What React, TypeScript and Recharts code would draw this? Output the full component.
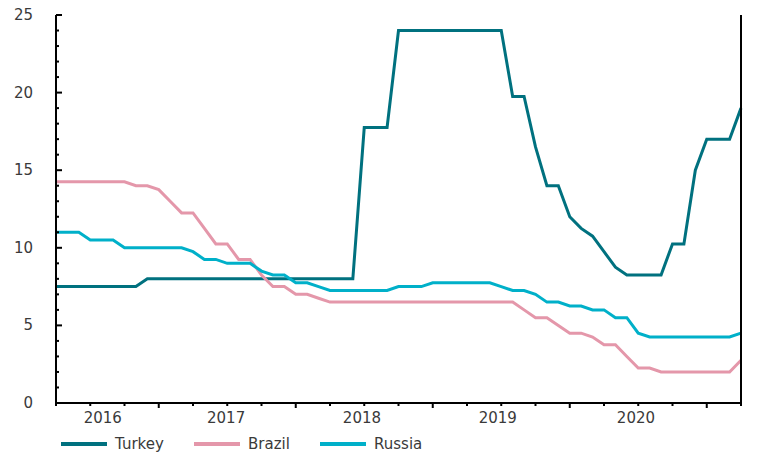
import React from 'react';
import { LineChart, Line, XAxis, YAxis } from 'recharts';

// monthly policy rates, Mar 2016 .. Mar 2021
const months = [
  'Mar-16', 'Apr-16', 'May-16', 'Jun-16', 'Jul-16', 'Aug-16', 'Sep-16', 'Oct-16', 'Nov-16', 'Dec-16',
  'Jan-17', 'Feb-17', 'Mar-17', 'Apr-17', 'May-17', 'Jun-17', 'Jul-17', 'Aug-17', 'Sep-17', 'Oct-17', 'Nov-17', 'Dec-17',
  'Jan-18', 'Feb-18', 'Mar-18', 'Apr-18', 'May-18', 'Jun-18', 'Jul-18', 'Aug-18', 'Sep-18', 'Oct-18', 'Nov-18', 'Dec-18',
  'Jan-19', 'Feb-19', 'Mar-19', 'Apr-19', 'May-19', 'Jun-19', 'Jul-19', 'Aug-19', 'Sep-19', 'Oct-19', 'Nov-19', 'Dec-19',
  'Jan-20', 'Feb-20', 'Mar-20', 'Apr-20', 'May-20', 'Jun-20', 'Jul-20', 'Aug-20', 'Sep-20', 'Oct-20', 'Nov-20', 'Dec-20',
  'Jan-21', 'Feb-21', 'Mar-21',
];

const turkey = [
  7.5, 7.5, 7.5, 7.5, 7.5, 7.5, 7.5, 7.5, 8, 8,
  8, 8, 8, 8, 8, 8, 8, 8, 8, 8, 8, 8,
  8, 8, 8, 8, 8, 17.75, 17.75, 17.75, 24, 24, 24, 24,
  24, 24, 24, 24, 24, 24, 19.75, 19.75, 16.5, 14, 14, 12,
  11.25, 10.75, 9.75, 8.75, 8.25, 8.25, 8.25, 8.25, 10.25, 10.25, 15, 17,
  17, 17, 19,
];

const brazil = [
  14.25, 14.25, 14.25, 14.25, 14.25, 14.25, 14.25, 14, 14, 13.75,
  13, 12.25, 12.25, 11.25, 10.25, 10.25, 9.25, 9.25, 8.25, 7.5, 7.5, 7,
  7, 6.75, 6.5, 6.5, 6.5, 6.5, 6.5, 6.5, 6.5, 6.5, 6.5, 6.5,
  6.5, 6.5, 6.5, 6.5, 6.5, 6.5, 6.5, 6, 5.5, 5.5, 5, 4.5,
  4.5, 4.25, 3.75, 3.75, 3, 2.25, 2.25, 2, 2, 2, 2, 2,
  2, 2, 2.75,
];

const russia = [
  11, 11, 11, 10.5, 10.5, 10.5, 10, 10, 10, 10,
  10, 10, 9.75, 9.25, 9.25, 9, 9, 9, 8.5, 8.25, 8.25, 7.75,
  7.75, 7.5, 7.25, 7.25, 7.25, 7.25, 7.25, 7.25, 7.5, 7.5, 7.5, 7.75,
  7.75, 7.75, 7.75, 7.75, 7.75, 7.5, 7.25, 7.25, 7, 6.5, 6.5, 6.25,
  6.25, 6, 6, 5.5, 5.5, 4.5, 4.25, 4.25, 4.25, 4.25, 4.25, 4.25,
  4.25, 4.25, 4.5,
];

const yTicks = [0, 1, 2, 3, 4, 5, 6, 7, 8, 9, 10, 11, 12, 13, 14, 15, 16, 17, 18, 19, 20, 21, 22, 23, 24, 25];
const quarterTicks = [0, 3, 6, 9, 12, 15, 18, 21, 24, 27, 30, 33, 36, 39, 42, 45, 48, 51, 54, 57, 60];
const yearTicks = [9, 21, 33, 45, 57]; // December ticks
const yearLabels = ['2016', '2017', '2018', '2019', '2020'];
const yearLabelPos = [4.1, 14.9, 26.8, 38.7, 50.8];

const series = [
  { key: 'turkey', name: 'Turkey', color: '#00717F' },
  { key: 'brazil', name: 'Brazil', color: '#E497AA' },
  { key: 'russia', name: 'Russia', color: '#00B0C9' },
];

const data = months.map((m, i) => ({
  i,
  month: m,
  turkey: turkey[i],
  brazil: brazil[i],
  russia: russia[i],
}));

const FONT = '"DejaVu Sans", Verdana, sans-serif';
const TEXT = '#3a3a3a';

const LeftTick = (props: any) => {
  const { x, y, payload } = props;
  const v = payload.value;
  const major = v % 5 === 0;
  return (
    <g>
      <line x1={x} x2={x + (major ? 6 : 3)} y1={y} y2={y} stroke="#000" strokeWidth={2} />
      {major && (
        <text x={x - 23} y={y} textAnchor="end" dominantBaseline="central" fontSize={15} fill={TEXT} fontFamily={FONT}>
          {v}
        </text>
      )}
    </g>
  );
};

const RightTick = (props: any) => {
  const { x, y, payload } = props;
  const v = payload.value;
  const major = v % 5 === 0;
  return (
    <g>
      <line x1={x} x2={x - (major ? 6 : 3)} y1={y} y2={y} stroke="#000" strokeWidth={2} />
      {major && (
        <text x={x + 12} y={y} textAnchor="start" dominantBaseline="central" fontSize={15} fill={TEXT} fontFamily={FONT}>
          {v}
        </text>
      )}
    </g>
  );
};

const BottomTick = (props: any) => {
  const { x, y, payload } = props;
  const v = payload.value;
  const li = yearLabelPos.indexOf(v);
  if (li >= 0) {
    return (
      <text x={x} y={y + 15} textAnchor="middle" dominantBaseline="central" fontSize={15} fill={TEXT} fontFamily={FONT}>
        {yearLabels[li]}
      </text>
    );
  }
  const major = yearTicks.includes(v);
  return <line x1={x} x2={x} y1={y} y2={y + (major ? 5 : 3)} stroke="#000" strokeWidth={2} />;
};

export default function App() {
  return (
    <div style={{ position: 'absolute', left: 0, top: 0, width: 781, height: 453, background: '#fff', overflow: 'hidden' }}>
      <LineChart width={781} height={453} data={data} margin={{ top: 15, right: 0, bottom: 20, left: 0 }}>
        <XAxis
          dataKey="i"
          type="number"
          domain={[0, 60]}
          ticks={[...quarterTicks, ...yearLabelPos]}
          interval={0}
          tick={<BottomTick />}
          tickLine={false}
          tickSize={0}
          tickMargin={0}
          height={30}
          axisLine={{ stroke: '#000', strokeWidth: 2 }}
        />
        <YAxis
          yAxisId="l"
          domain={[0, 25]}
          ticks={yTicks}
          interval={0}
          width={56}
          tick={<LeftTick />}
          tickLine={false}
          tickSize={0}
          tickMargin={0}
          axisLine={{ stroke: '#000', strokeWidth: 2 }}
        />
        <YAxis
          yAxisId="r"
          orientation="right"
          domain={[0, 25]}
          ticks={yTicks}
          interval={0}
          width={40}
          tick={<RightTick />}
          tickLine={false}
          tickSize={0}
          tickMargin={0}
          axisLine={{ stroke: '#000', strokeWidth: 2 }}
        />
        {series.map((s) => (
          <Line
            key={s.key}
            yAxisId="l"
            type="linear"
            dataKey={s.key}
            name={s.name}
            stroke={s.color}
            strokeWidth={3}
            dot={false}
            isAnimationActive={false}
          />
        ))}
      </LineChart>
      {/* legend sits right at the bottom edge, as in the original */}
      {series.map((s, idx) => (
        <div
          key={s.key}
          style={{
            position: 'absolute',
            left: [61, 194, 320][idx],
            top: 435,
            height: 18,
            lineHeight: '18px',
            display: 'flex',
            alignItems: 'center',
            fontFamily: FONT,
            fontSize: 15,
            color: TEXT,
            whiteSpace: 'nowrap',
          }}
        >
          <span style={{ display: 'inline-block', width: 46, height: 4, background: s.color, marginRight: 8 }} />
          <span>{s.name}</span>
        </div>
      ))}
    </div>
  );
}
